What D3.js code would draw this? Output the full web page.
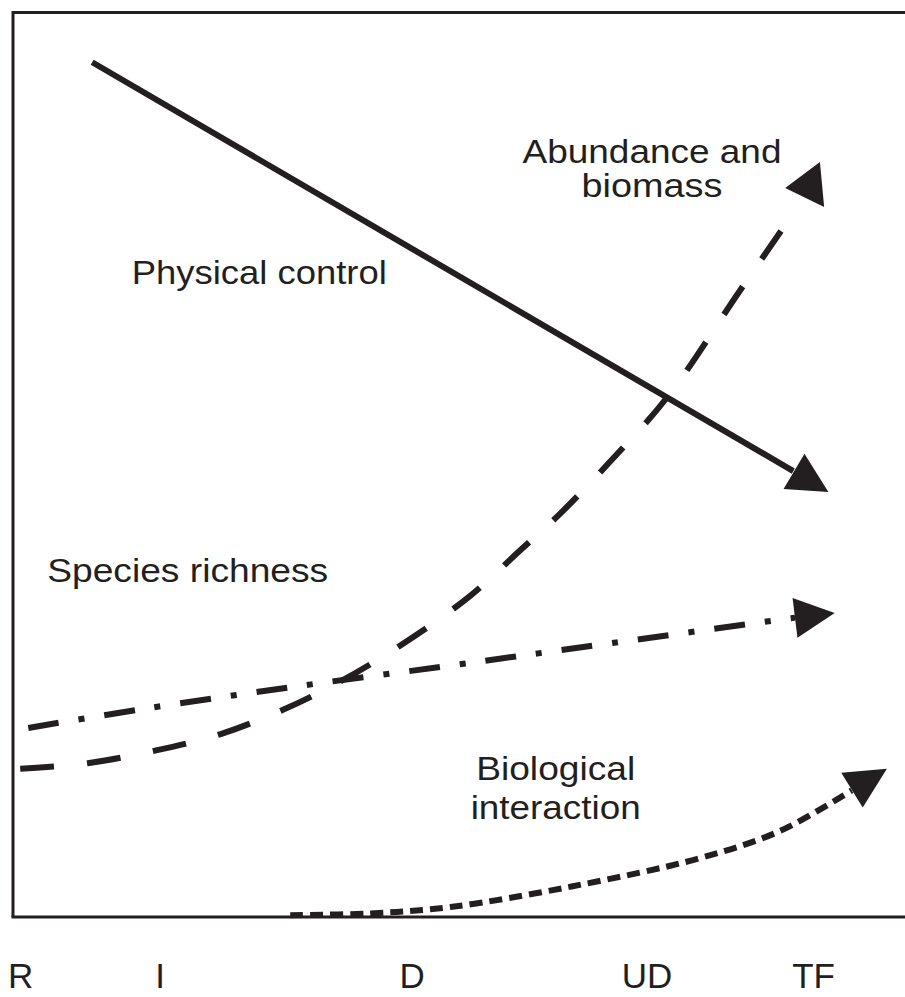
<!DOCTYPE html>
<html>
<head>
<meta charset="utf-8">
<script src="https://cdn.jsdelivr.net/npm/d3@7/dist/d3.min.js"></script>
<style>
  html, body { margin: 0; padding: 0; background: #fff; }
  svg { display: block; }
  text { font-family: "Liberation Sans", Arial, sans-serif; fill: #231f20; }
</style>
</head>
<body>
<script>
// ---- Data (x: 0–100 gradient position, y: 0–100 relative magnitude) ----
const gradientLabels = ["R", "I", "D", "UD", "TF"];
const gradientPositions = [0.8, 16.3, 44.3, 70.4, 88.9];

const physicalControl = [[8.8, 94.5], [86.7, 49.3]];
const abundanceBiomass = [[0.8, 16.4], [8.3, 17.0], [15.8, 18.4], [23.0, 20.2], [30.0, 22.9],
  [36.3, 26.0], [43.0, 30.0], [50.8, 35.5], [56.3, 40.5], [60.8, 44.6], [66.3, 50.3],
  [72.8, 57.6], [80.8, 69.3], [86.7, 77.8]];
const speciesRichness = [[1.7, 20.9], [13.8, 22.9], [30.8, 25.4], [48.6, 27.8], [65.2, 30.1], [86.9, 33.1]];
const biologicalInteraction = [[30.8, 0.2], [39.7, 0.4], [48.6, 1.1], [62.2, 3.4], [76.3, 6.5], [85.2, 9.5], [93.2, 14.0]];

// arrow tips (data units) and pointing angle (degrees, screen space)
const arrowTips = [
  { tip: [90.6, 47.0], angle: 30.7, len: 40, wid: 41 },
  { tip: [85.8, 80.6], angle: 174.6, len: 37, wid: 45 },
  { tip: [91.3, 33.6], angle: -7, len: 40, wid: 40 },
  { tip: [97.1, 16.4], angle: -31.6, len: 41, wid: 41 }
];

const labels = [
  { lines: ["Physical control"], x: 13.2, y: 70.0, anchor: "start", widths: [255], size: 34, gap: 0 },
  { lines: ["Abundance and", "biomass"], x: 71.0, y: 83.4, anchor: "middle", widths: [259, 141], size: 33, gap: 34 },
  { lines: ["Species richness"], x: 3.8, y: 37.0, anchor: "start", widths: [281], size: 34, gap: 0 },
  { lines: ["Biological", "interaction"], x: 60.3, y: 15.1, anchor: "middle", widths: [159, 170], size: 34, gap: 39 }
];

// ---- Layout ----
const W = 905, H = 997;
const svg = d3.select("body").append("svg").attr("width", W).attr("height", H);
const x = d3.scaleLinear().domain([0, 100]).range([13, 913]);
const y = d3.scaleLinear().domain([0, 100]).range([917, 12.5]);
const ink = "#231f20";

// frame
svg.append("path")
  .attr("d", `M${x(0)},${y(0)} L${x(0)},${y(100)} L${W + 5},${y(100)}`)
  .attr("fill", "none").attr("stroke", ink).attr("stroke-width", 3);
svg.append("line")
  .attr("x1", x(0) - 1.5).attr("x2", W + 5).attr("y1", y(0)).attr("y2", y(0))
  .attr("stroke", ink).attr("stroke-width", 3);

const line = d3.line().x(d => x(d[0])).y(d => y(d[1])).curve(d3.curveCatmullRom.alpha(0.5));

const series = [
  { data: physicalControl, dash: null },
  { data: abundanceBiomass, dash: "34,33" },
  { data: speciesRichness, dash: "31,20,6,20" },
  { data: biologicalInteraction, dash: "13,7" }
];

svg.selectAll("path.series").data(series).enter().append("path")
  .attr("class", "series")
  .attr("d", d => line(d.data))
  .attr("fill", "none").attr("stroke", ink).attr("stroke-width", 6)
  .attr("stroke-dasharray", d => d.dash);

// arrowheads
svg.selectAll("path.arrow").data(arrowTips).enter().append("path")
  .attr("class", "arrow")
  .attr("d", a => {
    const tx = x(a.tip[0]), ty = y(a.tip[1]);
    const r = a.angle * Math.PI / 180;
    const dx = Math.cos(r), dy = Math.sin(r);
    const bx = tx - a.len * dx, by = ty - a.len * dy;
    const px = -dy * a.wid / 2, py = dx * a.wid / 2;
    return `M${tx},${ty} L${bx + px},${by + py} L${bx - px},${by - py} Z`;
  })
  .attr("fill", ink);

// labels
labels.forEach(l => {
  l.lines.forEach((t, i) => {
    svg.append("text")
      .attr("x", x(l.x))
      .attr("y", y(l.y) + i * l.gap)
      .attr("text-anchor", l.anchor)
      .attr("font-size", l.size)
      .attr("textLength", l.widths[i])
      .attr("lengthAdjust", "spacingAndGlyphs")
      .text(t);
  });
});

// gradient axis
const axis = d3.axisBottom(x).tickValues(gradientPositions)
  .tickFormat((d, i) => gradientLabels[i]).tickSize(0).tickPadding(0);
const g = svg.append("g").attr("transform", `translate(0, 988)`).call(axis);
g.select(".domain").remove();
g.selectAll("text").attr("font-size", 35).attr("dy", 0)
  .style("font-family", "'Liberation Sans', Arial, sans-serif").style("fill", ink);
</script>
</body>
</html>
